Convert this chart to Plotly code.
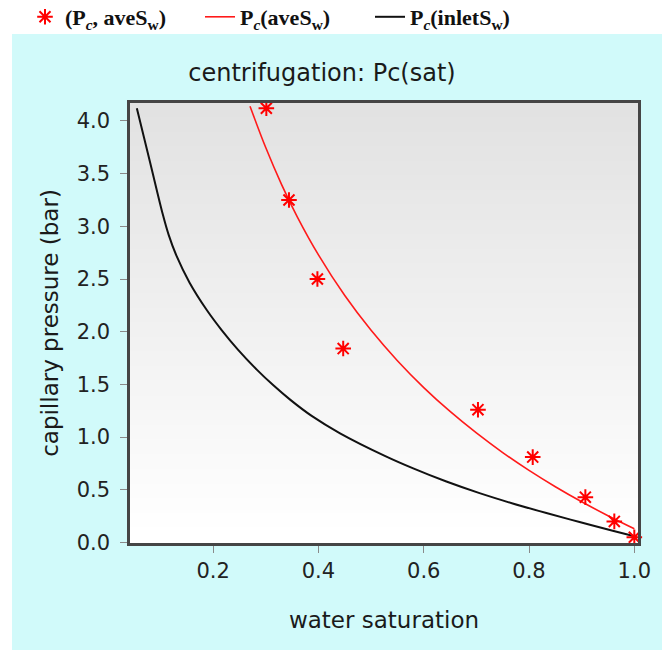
import plotly.graph_objects as go

# Measured points: average water saturation vs capillary pressure
sw_meas = [0.301, 0.344, 0.398, 0.447, 0.703, 0.807, 0.907, 0.962, 1.0]
pc_meas = [4.12, 3.25, 2.50, 1.84, 1.26, 0.81, 0.43, 0.20, 0.05]

# Fitted Pc(aveSw) curve
sw_ave = [0.27, 0.30, 0.33, 0.36, 0.40, 0.45, 0.50, 0.55, 0.60, 0.65,
          0.70, 0.75, 0.80, 0.85, 0.90, 0.95, 1.0]
pc_ave = [4.14, 3.745, 3.396, 3.088, 2.729, 2.343, 2.013, 1.725, 1.470, 1.243,
          1.039, 0.853, 0.684, 0.529, 0.386, 0.254, 0.13]

# Derived Pc(inletSw) curve
sw_inlet = [0.055, 0.080, 0.1044, 0.1153, 0.1302, 0.1552, 0.1875, 0.2157,
            0.2474, 0.2833, 0.3133, 0.3467, 0.3871, 0.441, 0.526, 0.580,
            0.643, 0.706, 0.769, 0.833, 0.896, 0.959, 1.0]
pc_inlet = [4.12, 3.61, 3.111, 2.921, 2.721, 2.465, 2.208, 2.018,
            1.828, 1.638, 1.496, 1.353, 1.201, 1.036, 0.822, 0.703,
            0.578, 0.468, 0.370, 0.279, 0.194, 0.112, 0.059]

x_ticks = [0.2, 0.4, 0.6, 0.8, 1.0]
x_ticktext = ["0.2", "0.4", "0.6", "0.8", "1.0"]
y_ticks = [0.0, 0.5, 1.0, 1.5, 2.0, 2.5, 3.0, 3.5, 4.0]
y_ticktext = ["0.0", "0.5", "1.0", "1.5", "2.0", "2.5", "3.0", "3.5", "4.0"]

name_meas = "<b>(P<sub><i>c</i></sub>, aveS<sub>w</sub>)</b>"
name_ave = "<b>P<sub><i>c</i></sub>(aveS<sub>w</sub>)</b>"
name_inlet = "<b>P<sub><i>c</i></sub>(inletS<sub>w</sub>)</b>"

W, H = 662, 650
L, R, T, B = 130, 24, 103, 107
PW, PH = W - L - R, H - T - B

def px_x(p):
    return (p - L) / PW

def px_y(p):
    return (H - B - p) / PH

fig = go.Figure()

fig.add_trace(go.Scatter(
    x=sw_inlet, y=pc_inlet, mode="lines", name=name_inlet, legend="legend3",
    line=dict(color="#111111", width=2, shape="spline", smoothing=1.0),
))
fig.add_trace(go.Scatter(
    x=sw_ave, y=pc_ave, mode="lines", name=name_ave, legend="legend2",
    line=dict(color="#ff1a1a", width=1.6, shape="spline", smoothing=1.0),
))
fig.add_trace(go.Scatter(
    x=sw_meas, y=pc_meas, mode="markers", name=name_meas, legend="legend",
    marker=dict(symbol="asterisk-open", size=13, color="#ff0000",
                line=dict(color="#ff0000", width=2)),
    cliponaxis=False,
))

shapes = []
# cyan panel behind the chart, white strip above it for the legend
shapes.append(dict(type="rect", xref="paper", yref="paper", layer="below",
                   x0=px_x(12), x1=px_x(W + 5), y0=px_y(H + 5), y1=px_y(34),
                   fillcolor="#d1fafa", line=dict(width=0)))
# vertical gray-to-white gradient inside the plotting area
n = 60
top, bot = 226, 255
for i in range(n):
    c = round(top + (bot - top) * i / (n - 1))
    shapes.append(dict(type="rect", xref="x domain", yref="y domain", layer="below",
                       x0=0, x1=1, y0=1 - (i + 1) / n, y1=1 - i / n + 0.002,
                       fillcolor=f"rgb({c},{c},{c})", line=dict(width=0)))

sans = "DejaVu Sans"
axis_common = dict(
    ticks="outside", ticklen=7, tickwidth=1, tickcolor="#8a8a8a",
    showline=True, linecolor="#454545", linewidth=2.5, mirror=True,
    showgrid=False, zeroline=False,
    tickfont=dict(family=sans, size=21, color="#222222"),
)

legend_common = dict(orientation="h", yanchor="top", xanchor="left",
                     y=px_y(-4), bgcolor="rgba(0,0,0,0)", borderwidth=0,
                     font=dict(family="Liberation Serif", size=22, color="#111111"))

fig.update_layout(
    width=W, height=H, autosize=False,
    margin=dict(l=L, r=R, t=T, b=B, pad=0, autoexpand=False),
    paper_bgcolor="white", plot_bgcolor="rgba(0,0,0,0)",
    shapes=shapes,
    title=dict(text="centrifugation: Pc(sat)", xref="container", yref="container",
               x=322 / W, xanchor="center", y=1 - 73 / H, yanchor="middle",
               font=dict(family=sans, size=24, color="#1a1a1a")),
    xaxis=dict(range=[0.042, 1.007], tickvals=x_ticks, ticktext=x_ticktext,
               title=dict(text="water saturation", standoff=30,
                          font=dict(family=sans, size=23, color="#1a1a1a")),
               **axis_common),
    yaxis=dict(range=[-0.005, 4.17], tickvals=y_ticks, ticktext=y_ticktext,
               ticklabelstandoff=6,
               title=dict(text="capillary pressure (bar)", standoff=12,
                          font=dict(family=sans, size=23, color="#1a1a1a")),
               **axis_common),
    legend=dict(x=px_x(25), **legend_common),
    legend2=dict(x=px_x(200), **legend_common),
    legend3=dict(x=px_x(370), **legend_common),
    showlegend=True,
)

fig.write_html("out.html")
